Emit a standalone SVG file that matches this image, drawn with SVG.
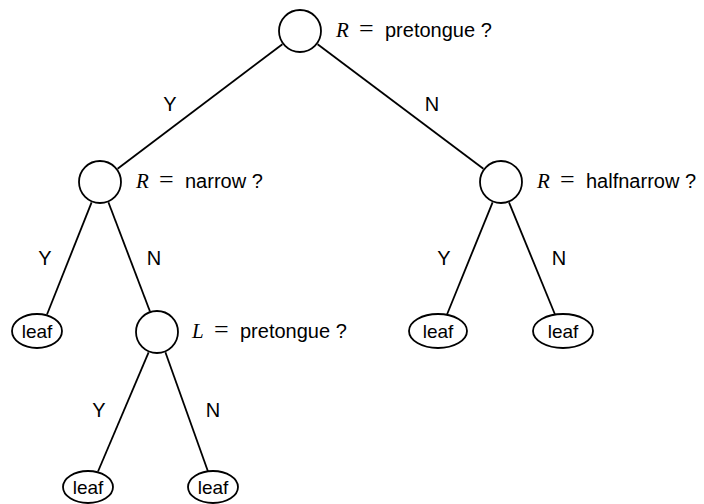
<svg xmlns="http://www.w3.org/2000/svg" width="704" height="504" viewBox="0 0 704 504">
<style>
.n{fill:#fff;stroke:#000;stroke-width:1.8}
.e{stroke:#000;stroke-width:1.8;fill:none}
.t{font-family:"Liberation Sans",Arial,sans-serif;font-size:20px;fill:#000}
.m{font-family:"Liberation Serif","Times New Roman",serif;font-size:21px;fill:#000}
.eq{font-family:"Liberation Serif","Times New Roman",serif;font-size:26px;fill:#000}
.i{font-style:italic}
.lbl{font-family:"Liberation Sans",Arial,sans-serif;font-size:20px;fill:#000;text-anchor:middle}
.lf{font-family:"Liberation Sans",Arial,sans-serif;font-size:19px;fill:#000;text-anchor:middle}
</style>
<rect width="704" height="504" fill="#fff"/>
<g id="connectors">
<line class="e" x1="282.4" y1="44.3" x2="117.6" y2="168.7"/>
<line class="e" x1="317.6" y1="44.3" x2="483.4" y2="168.7"/>
<line class="e" x1="91.6" y1="202.3" x2="47" y2="314.5"/>
<line class="e" x1="108.4" y1="202.3" x2="150" y2="311.5"/>
<line class="e" x1="492.6" y1="202.3" x2="447" y2="314.5"/>
<line class="e" x1="509" y1="202.3" x2="555" y2="314.5"/>
<line class="e" x1="148.6" y1="352.3" x2="98" y2="471.5"/>
<line class="e" x1="165.4" y1="352.3" x2="208" y2="471.5"/>
<text class="lbl" x="170" y="111">Y</text>
<text class="lbl" x="432" y="111">N</text>
<text class="lbl" x="45" y="265">Y</text>
<text class="lbl" x="154" y="265">N</text>
<text class="lbl" x="444" y="265">Y</text>
<text class="lbl" x="559" y="265">N</text>
<text class="lbl" x="99" y="417">Y</text>
<text class="lbl" x="213" y="417">N</text>
</g>
<g id="root">
<circle class="n" cx="300" cy="31" r="21"/>
<text y="37"><tspan class="m i" x="336">R</tspan><tspan class="eq" x="359">=</tspan><tspan class="t" x="385">pretongue ?</tspan></text>
</g>
<g id="narrow">
<circle class="n" cx="100" cy="182" r="21"/>
<text y="188"><tspan class="m i" x="136">R</tspan><tspan class="eq" x="159">=</tspan><tspan class="t" x="185">narrow ?</tspan></text>
</g>
<g id="halfnarrow">
<circle class="n" cx="501" cy="182" r="21"/>
<text y="188"><tspan class="m i" x="537">R</tspan><tspan class="eq" x="560">=</tspan><tspan class="t" x="586">halfnarrow ?</tspan></text>
</g>
<g id="lpretongue">
<circle class="n" cx="157" cy="332" r="21"/>
<text y="338"><tspan class="m i" x="192">L</tspan><tspan class="eq" x="214">=</tspan><tspan class="t" x="240">pretongue ?</tspan></text>
</g>
<g id="leaf1"><ellipse class="n" cx="37" cy="331" rx="25" ry="17"/><text class="lf" x="37" y="338">leaf</text></g>
<g id="leaf2"><ellipse class="n" cx="438" cy="331" rx="29" ry="17"/><text class="lf" x="438" y="338">leaf</text></g>
<g id="leaf3"><ellipse class="n" cx="563" cy="331" rx="30" ry="17"/><text class="lf" x="563" y="338">leaf</text></g>
<g id="leaf4"><ellipse class="n" cx="88" cy="487" rx="25" ry="16"/><text class="lf" x="88" y="494">leaf</text></g>
<g id="leaf5"><ellipse class="n" cx="213" cy="487" rx="25" ry="16"/><text class="lf" x="213" y="494">leaf</text></g>
</svg>
